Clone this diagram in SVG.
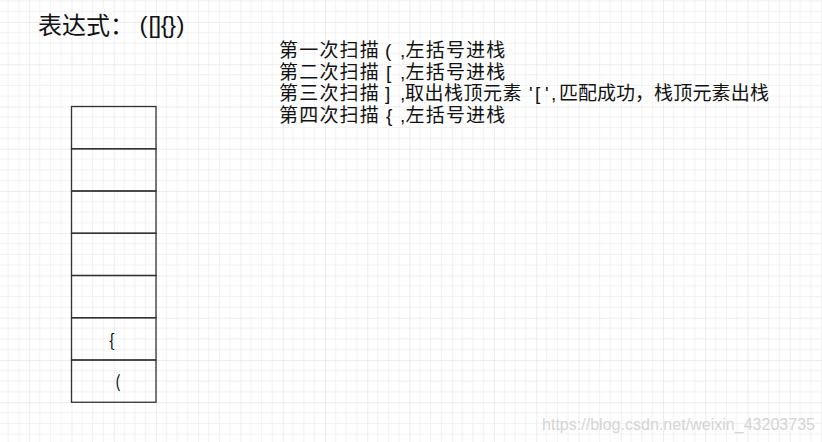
<svg xmlns="http://www.w3.org/2000/svg" width="822" height="442" viewBox="0 0 822 442">
  <style>
    .cjk { font-family: "Noto Sans CJK SC", "Noto Sans", "Liberation Sans", sans-serif; fill: #111; }
    .s { font-size: 19px; }
    .w { letter-spacing: 1.2px; }
    .lat { font-family: "Liberation Sans", "Noto Sans", sans-serif; fill: #111; font-size: 19px; }
    .big { font-size: 24px; }
    .cell { fill: none; stroke: #333; stroke-width: 1.3; }
    .mark { font-family: "Liberation Sans", "Noto Sans", sans-serif; font-size: 16px; fill: #d4d4d4; }
  </style>
  <defs>
    <pattern id="grid" patternUnits="userSpaceOnUse" x="29.25" y="22" width="42.25" height="42.25">
      <path d="M10.56 0V42.25M21.125 0V42.25M31.69 0V42.25M0 10.56H42.25M0 21.125H42.25M0 31.69H42.25" stroke="#f1f1f1" stroke-width="1" fill="none"/>
      <path d="M0 0V42.25M0 0H42.25" stroke="#dcdcdc" stroke-width="1" fill="none"/>
    </pattern>
  </defs>
  <rect width="822" height="442" fill="#ffffff"/>
  <rect width="822" height="442" fill="url(#grid)"/>

  <g id="title">
    <text class="cjk big" x="38" y="34">表达式：</text>
    <text class="lat big" x="139.5" y="33">(</text>
    <text class="lat big" x="148.5" y="33" letter-spacing="-0.6">[]{}</text>
    <text class="lat big" x="176.5" y="33">)</text>
  </g>

  <g id="steps">
    <g id="step1">
      <text class="cjk s w" x="279" y="57">第一次扫描</text>
      <text class="lat" x="385" y="57">(</text>
      <text class="lat" x="400" y="57">,</text>
      <text class="cjk s w" x="405.5" y="57">左括号进栈</text>
    </g>
    <g id="step2">
      <text class="cjk s w" x="279" y="78.5">第二次扫描</text>
      <text class="lat" x="386" y="78.5">[</text>
      <text class="lat" x="400" y="78.5">,</text>
      <text class="cjk s w" x="405.5" y="78.5">左括号进栈</text>
    </g>
    <g id="step3">
      <text class="cjk s w" x="279" y="100">第三次扫描</text>
      <text class="lat" x="385" y="100">]</text>
      <text class="lat" x="400" y="100">,</text>
      <text class="cjk s" x="405" y="100" letter-spacing="0.5">取出栈顶元素</text>
      <text class="lat" x="529" y="100">'</text>
      <text class="lat" x="535" y="100">[</text>
      <text class="lat" x="545" y="100">'</text>
      <text class="lat" x="551" y="100">,</text>
      <text class="cjk s" x="559" y="100">匹配成功，</text>
      <text class="cjk s" x="654" y="100" letter-spacing="0.2">栈顶元素出栈</text>
    </g>
    <g id="step4">
      <text class="cjk s w" x="279" y="121.5">第四次扫描</text>
      <text class="lat" x="386" y="121.5">{</text>
      <text class="lat" x="400" y="121.5">,</text>
      <text class="cjk s w" x="405.5" y="121.5">左括号进栈</text>
    </g>
  </g>

  <g id="stack">
    <g id="cell7"><rect class="cell" x="71.5" y="106.5" width="84.5" height="42.25"/></g>
    <g id="cell6"><rect class="cell" x="71.5" y="148.75" width="84.5" height="42.25"/></g>
    <g id="cell5"><rect class="cell" x="71.5" y="191" width="84.5" height="42.25"/></g>
    <g id="cell4"><rect class="cell" x="71.5" y="233.25" width="84.5" height="42.25"/></g>
    <g id="cell3"><rect class="cell" x="71.5" y="275.5" width="84.5" height="42.25"/></g>
    <g id="cell2">
      <rect class="cell" x="71.5" y="317.75" width="84.5" height="42.25"/>
      <text class="cjk" font-size="17" x="109" y="347">{</text>
    </g>
    <g id="cell1">
      <rect class="cell" x="71.5" y="360" width="84.5" height="42.25"/>
      <text class="cjk" font-size="17" x="115" y="388">(</text>
    </g>
  </g>

  <text class="mark" x="542" y="430" textLength="273">https://blog.csdn.net/weixin_43203735</text>
</svg>
